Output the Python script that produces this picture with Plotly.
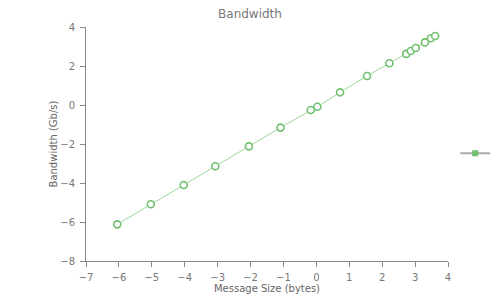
import plotly.graph_objects as go

msg_size = [-6.05, -5.03, -4.03, -3.07, -2.05, -1.09, -0.17, 0.03, 0.72, 1.54,
            2.22, 2.73, 2.87, 3.02, 3.30, 3.48, 3.61]
bandwidth = [-6.12, -5.09, -4.10, -3.14, -2.12, -1.16, -0.26, -0.09, 0.65, 1.49,
             2.14, 2.62, 2.77, 2.92, 3.21, 3.42, 3.54]

x_ticks = [-7, -6, -5, -4, -3, -2, -1, 0, 1, 2, 3, 4]
y_ticks = [-8, -6, -4, -2, 0, 2, 4]

FONT = "DejaVu Sans, Verdana, sans-serif"
GREEN = "#70c070"
LINE_GREEN = "#9ad89a"
AXIS = "#888888"

fig = go.Figure()
fig.add_trace(go.Scatter(
    x=msg_size, y=bandwidth, mode="lines+markers",
    line=dict(color=LINE_GREEN, width=1),
    marker=dict(symbol="circle", size=7, color="white",
                line=dict(color=GREEN, width=1.6)),
    showlegend=False,
))
fig.add_trace(go.Scatter(
    x=[None], y=[None], mode="lines+markers", name="",
    line=dict(color="#aaaaaa", width=2),
    marker=dict(symbol="square", size=6, color=GREEN),
    showlegend=True,
))

axis_common = dict(
    showgrid=False, zeroline=False, showline=True, linecolor=AXIS, linewidth=1,
    ticks="outside", ticklen=5, tickcolor=AXIS,
    tickfont=dict(family=FONT, size=10, color="#777777"),
    title_font=dict(family=FONT, size=10, color="#666666"),
)

fig.update_layout(
    width=500, height=300,
    margin=dict(l=86, r=52, t=27, b=39, autoexpand=False),
    paper_bgcolor="white", plot_bgcolor="white",
    title=dict(text="Bandwidth", x=0.5, xanchor="center", y=0.953, yanchor="middle",
               font=dict(family=FONT, size=12, color="#777777")),
    xaxis=dict(range=[-7, 4], tickvals=x_ticks, ticklabelstandoff=2,
               title=dict(text="Message Size (bytes)", standoff=2),
               **axis_common),
    yaxis=dict(range=[-8, 4], tickvals=y_ticks, ticklabelstandoff=3,
               title=dict(text="Bandwidth (Gb/s)", standoff=0),
               **axis_common),
    legend=dict(x=1.02, y=0.46, xanchor="left", yanchor="middle",
                font=dict(family=FONT, size=10), itemwidth=30,
                bgcolor="rgba(0,0,0,0)"),
)

fig.write_html("out.html")
